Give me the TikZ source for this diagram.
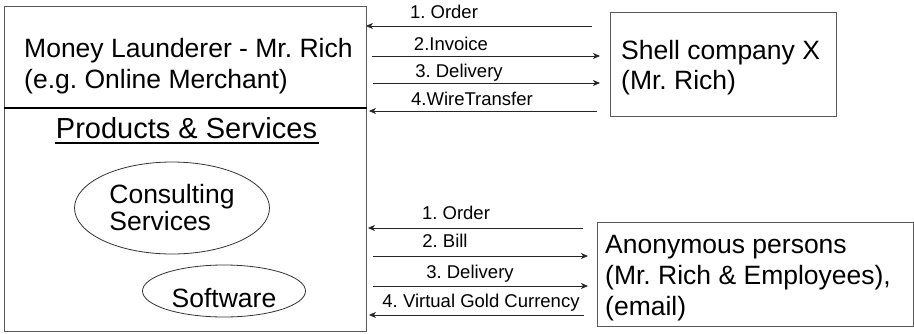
\documentclass[tikz,border=0pt]{standalone}
\usepackage{fontspec}
\setmainfont{Liberation Sans}
\frenchspacing
\usetikzlibrary{arrows.meta,shapes.geometric,calc}
\tikzset{
  box/.style={draw=black!65, line width=0.9pt, rectangle, inner sep=0pt, anchor=north west},
  oval/.style={draw=black!80, line width=0.8pt, ellipse, inner sep=0pt, font=\fontsize{26.5}{27}\selectfont},
  bigtext/.style={inner sep=0pt, anchor=base west, font=\fontsize{26.5}{31}\selectfont},
  headtext/.style={inner sep=0pt, anchor=base, font=\fontsize{29}{33}\selectfont},
  lbl/.style={inner sep=0pt, anchor=base, font=\fontsize{18.5}{21}\selectfont},
  flow/.style={draw=black!85, line width=0.9pt, -{Stealth[length=7pt,width=6pt,inset=2pt]}},
  divider/.style={draw=black, line width=1.8pt},
  uline/.style={draw=black, line width=1.5pt}
}
\begin{document}
\begin{tikzpicture}[x=1pt,y=-1pt]
\useasboundingbox (0,0) rectangle (914,333);

% merchant box with its products section
\node[box, minimum width=362.5pt, minimum height=325pt] (main) at (3.5,6) {};
\coordinate (divR) at (367,108);
\draw[divider] (main.west |- divR) -- (divR);
\node[bigtext] (m1) at (24,57) {Money Launderer - Mr. Rich};
\node[bigtext] (m2) at (24,88) {(e.g. Online Merchant)};
\node[headtext] (ps) at (186.5,138) {Products \& Services};
\draw[uline] ([yshift=-5pt,xshift=-1pt]ps.base west) -- ([yshift=-5pt,xshift=2pt]ps.base east);
\node[oval, minimum width=195pt, minimum height=92pt, align=left] (cs) at (172,208) {Consulting\\Services};
\node[oval, minimum width=163pt, minimum height=52pt, text height=32pt, text depth=0pt] (sw) at (224,291) {Software};

% shell company
\node[box, minimum width=226pt, minimum height=104pt] (shell) at (610,12) {};
\node[bigtext] (s1) at (621,59) {Shell company X};
\node[bigtext] (s2) at (621,89) {(Mr. Rich)};

% anonymous persons
\node[box, minimum width=316pt, minimum height=104pt] (anon) at (597,222) {};
\node[bigtext] (a1) at (605,253) {Anonymous persons};
\node[bigtext] (a2) at (605,284) {(Mr. Rich \& Employees),};
\node[bigtext] (a3) at (605,315) {(email)};

% flows between merchant and shell company
\coordinate (u1) at (592,26);
\coordinate (u2a) at (372,56);  \coordinate (u2b) at (600,56);
\coordinate (u3a) at (373,83);  \coordinate (u3b) at (600,83);
\coordinate (u4) at (597,111);
\draw[flow] (u1) -- ($(u1 -| main.east)+(-1,0)$);
\draw[flow] (u2a) -- (u2b);
\draw[flow] (u3a) -- (u3b);
\draw[flow] (u4) -- ($(u4 -| main.east)+(2,0)$);
\node[lbl] (t1) at (444,18) {1. Order};
\node[lbl] (t2) at (451,50) {2.Invoice};
\node[lbl] (t3) at (459,77) {3. Delivery};
\node[lbl] (t4) at (472,105) {4.WireTransfer};

% flows between merchant and anonymous persons
\coordinate (d1) at (583,228);
\coordinate (d2a) at (373,256); \coordinate (d2b) at (588,256);
\coordinate (d3a) at (373,286); \coordinate (d3b) at (588,286);
\coordinate (d4) at (584,315);
\draw[flow] (d1) -- ($(d1 -| main.east)+(1,0)$);
\draw[flow] (d2a) -- (d2b);
\draw[flow] (d3a) -- (d3b);
\draw[flow] (d4) -- ($(d4 -| main.east)+(2,0)$);
\node[lbl] (b1) at (456,219) {1. Order};
\node[lbl] (b2) at (445,247) {2. Bill};
\node[lbl] (b3) at (470,278) {3. Delivery};
\node[lbl] (b4) at (481,307) {4. Virtual Gold Currency};
\end{tikzpicture}
\end{document}
